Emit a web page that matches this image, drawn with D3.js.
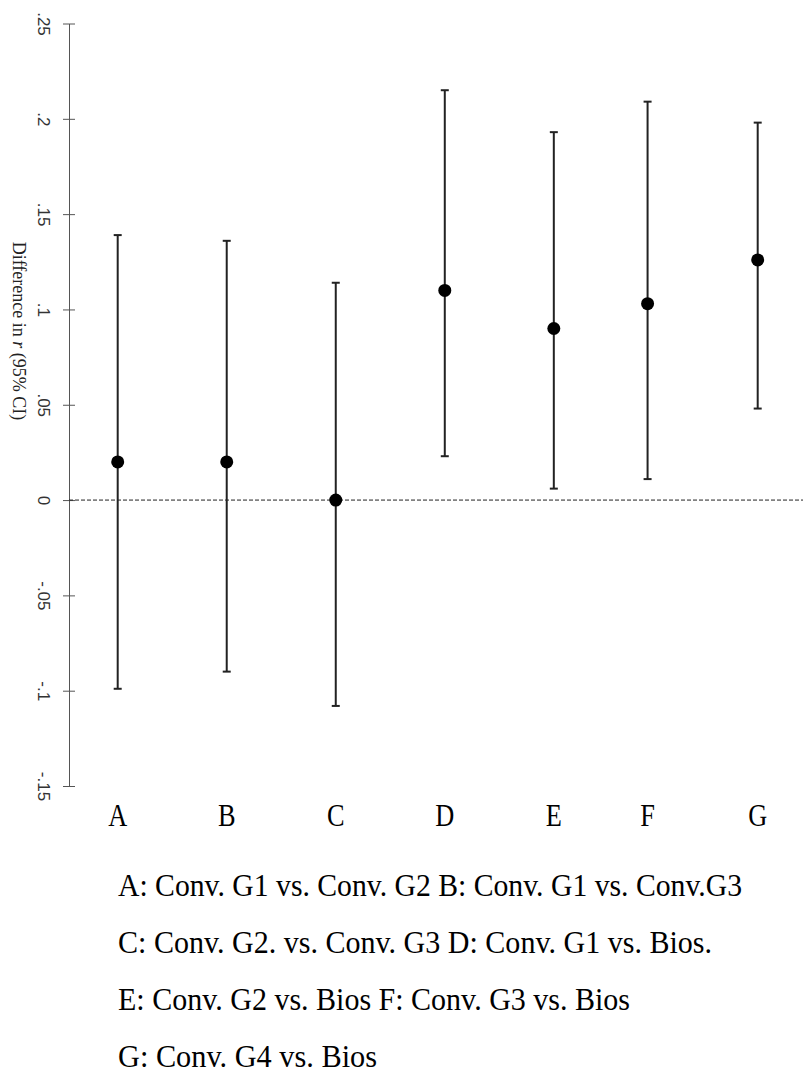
<!DOCTYPE html>
<html lang="en">
    <head>
        <meta charset="utf-8">
        <title>Difference in r</title>
        <script type="text/javascript" src="https://cdnjs.cloudflare.com/ajax/libs/d3/7.8.5/d3.min.js"></script>
        <style>
            body { margin: 0; background: #fff; }
            svg { display: block; }
        </style>
    </head>
    <body>
        <div id="chart"></div>
        <script type="text/javascript">
            // comparisons and their x position on the original plot
            var categories = ["A", "B", "C", "D", "E", "F", "G"];
            var xPos = [1, 2, 3, 4, 5, 5.86, 6.87];
            // difference in r with 95% CI
            var estimate = [0.020, 0.020, 0.000, 0.110, 0.090, 0.103, 0.126];
            var lower = [-0.099, -0.090, -0.108, 0.023, 0.006, 0.011, 0.048];
            var upper = [0.139, 0.136, 0.114, 0.215, 0.193, 0.209, 0.198];
            var yTicks = [-0.15, -0.1, -0.05, 0, 0.05, 0.1, 0.15, 0.2, 0.25];
            var legendLines = [
                "A: Conv. G1 vs. Conv. G2 B: Conv. G1 vs. Conv.G3",
                "C: Conv. G2. vs. Conv. G3 D: Conv. G1 vs. Bios.",
                "E: Conv. G2 vs. Bios F: Conv. G3 vs. Bios",
                "G: Conv. G4 vs. Bios"
            ];
            var legendWidths = [624, 594, 512, 259];

            var width = 803;
            var height = 1081;
            var axisX = 69;

            var svg = d3.select("#chart")
                    .append("svg")
                    .attr("width", width)
                    .attr("height", height);

            var xScale = d3.scaleLinear()
                    .domain([1, 6.87])
                    .range([117.7, 757.7]);
            var yScale = d3.scaleLinear()
                    .domain([-0.15, 0.25])
                    .range([786, 23.5]);

            // y axis, ticks cross the line
            var yAxis = d3.axisLeft(yScale)
                    .tickValues(yTicks)
                    .tickSizeInner(12)
                    .tickSizeOuter(0)
                    .tickFormat(function(d){
                        if (d === 0) return "0";
                        var s = d3.format(".2~f")(Math.abs(d)).replace("0.", ".");
                        return (d < 0 ? "-" : "") + s;
                    });
            var gy = svg.append("g")
                    .attr("transform", "translate(" + axisX + ",0)")
                    .call(yAxis);
            gy.select(".domain").attr("stroke", "#555").attr("stroke-width", 1);
            gy.selectAll(".tick line").attr("stroke", "#555").attr("x1", 6).attr("x2", -6);
            gy.selectAll(".tick text")
                    .attr("x", null).attr("dy", null)
                    .attr("transform", "translate(-26,0) rotate(90)")
                    .attr("text-anchor", "middle")
                    .attr("dominant-baseline", "central")
                    .attr("fill", "#333")
                    .style("font-family", "'Liberation Sans', Arial, sans-serif")
                    .style("font-size", "17px");

            // axis title
            var title = svg.append("text")
                    .attr("transform", "translate(19,331) rotate(90)")
                    .attr("text-anchor", "middle")
                    .attr("dominant-baseline", "central")
                    .attr("fill", "#222")
                    .style("font-family", "'Liberation Serif', 'Times New Roman', serif")
                    .style("font-size", "18px");
            title.append("tspan").text("Difference in ");
            title.append("tspan").style("font-style", "italic").text("r");
            title.append("tspan").text(" (95% CI)");

            // zero reference line
            svg.append("line")
                    .attr("x1", axisX).attr("x2", width)
                    .attr("y1", yScale(0)).attr("y2", yScale(0))
                    .attr("stroke", "#222")
                    .attr("stroke-width", 1)
                    .attr("stroke-dasharray", "4,2");

            var idx = d3.range(categories.length);

            // error bars
            svg.selectAll(".ci")
                .data(idx)
                .enter()
                .append("line")
                .attr("class", "ci")
                .attr("x1", function(i){ return xScale(xPos[i]); })
                .attr("x2", function(i){ return xScale(xPos[i]); })
                .attr("y1", function(i){ return yScale(lower[i]); })
                .attr("y2", function(i){ return yScale(upper[i]); })
                .attr("stroke", "#222")
                .attr("stroke-width", 2);

            [lower, upper].forEach(function(arr){
                svg.selectAll(null)
                    .data(idx)
                    .enter()
                    .append("line")
                    .attr("x1", function(i){ return xScale(xPos[i]) - 4; })
                    .attr("x2", function(i){ return xScale(xPos[i]) + 4; })
                    .attr("y1", function(i){ return yScale(arr[i]); })
                    .attr("y2", function(i){ return yScale(arr[i]); })
                    .attr("stroke", "#222")
                    .attr("stroke-width", 2);
            });

            // point estimates
            svg.selectAll(".pt")
                .data(idx)
                .enter()
                .append("circle")
                .attr("class", "pt")
                .attr("cx", function(i){ return xScale(xPos[i]); })
                .attr("cy", function(i){ return yScale(estimate[i]); })
                .attr("r", 6.5)
                .attr("fill", "#000");

            // category labels (the original type is a little condensed)
            svg.selectAll(".cat")
                .data(idx)
                .enter()
                .append("text")
                .attr("class", "cat")
                .attr("transform", function(i){ return "translate(" + xScale(xPos[i]) + ",826) scale(0.85,1)"; })
                .attr("text-anchor", "middle")
                .style("font-family", "'Liberation Serif', 'Times New Roman', serif")
                .style("font-size", "31px")
                .text(function(i){ return categories[i]; });

            // legend text below the plot
            svg.selectAll(".legend")
                .data(legendLines)
                .enter()
                .append("text")
                .attr("class", "legend")
                .attr("x", 118)
                .attr("y", function(d, i){ return 896 + i * 57; })
                .attr("textLength", function(d, i){ return legendWidths[i]; })
                .attr("lengthAdjust", "spacingAndGlyphs")
                .style("font-family", "'Liberation Serif', 'Times New Roman', serif")
                .style("font-size", "31px")
                .text(function(d){ return d; });
        </script>
    </body>
</html>
